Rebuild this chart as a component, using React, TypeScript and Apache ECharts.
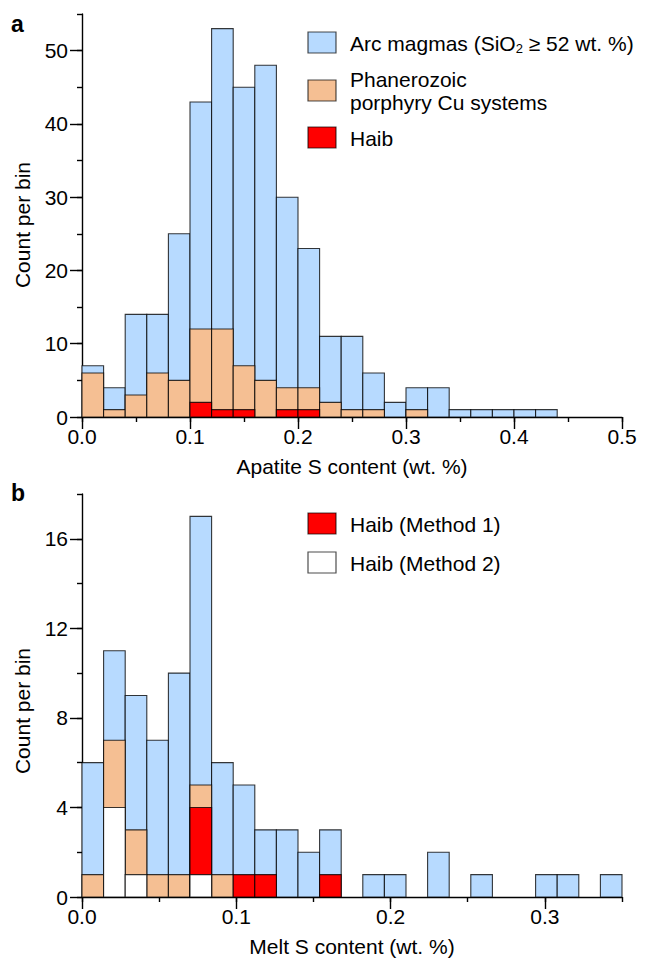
import React, { useEffect, useRef } from "react";
import * as echarts from "echarts";

// Panel a: apatite S content histogram (bin width 0.02 wt.%)
const binWidthA = 0.02;
const arcA = [7, 4, 14, 14, 25, 43, 53, 45, 48, 30, 23, 11, 11, 6, 2, 4, 4, 1, 1, 1, 1, 1, 0, 0, 0];
const porphyryA = [6, 1, 3, 6, 5, 12, 12, 7, 5, 4, 4, 2, 1, 1, 0, 1, 0, 0, 0, 0, 0, 0, 0, 0, 0];
const haibA = [0, 0, 0, 0, 0, 2, 1, 1, 0, 1, 1, 0, 0, 0, 0, 0, 0, 0, 0, 0, 0, 0, 0, 0, 0];

// Panel b: melt S content histogram (bin width 0.014 wt.%)
const binWidthB = 0.014;
const arcB = [6, 11, 9, 7, 10, 17, 6, 5, 3, 3, 2, 3, 0, 1, 1, 0, 2, 0, 1, 0, 0, 1, 1, 0, 1];
const porphyryB = [1, 7, 3, 1, 1, 5, 1, 0, 0, 0, 0, 0, 0, 0, 0, 0, 0, 0, 0, 0, 0, 0, 0, 0, 0];
const haibM1B = [0, 0, 0, 0, 0, 4, 0, 1, 1, 0, 0, 1, 0, 0, 0, 0, 0, 0, 0, 0, 0, 0, 0, 0, 0];
const haibM2B = [0, 4, 1, 0, 0, 1, 0, 0, 0, 0, 0, 0, 0, 0, 0, 0, 0, 0, 0, 0, 0, 0, 0, 0, 0];

const xTicksA = [0, 0.1, 0.2, 0.3, 0.4, 0.5];
const yTicksA = [0, 10, 20, 30, 40, 50];
const xTicksB = [0, 0.1, 0.2, 0.3];
const yTicksB = [0, 4, 8, 12, 16];

const BLUE = "#b7daff";
const ORANGE = "#f5bf93";
const RED = "#ff0000";
const WHITE = "#ffffff";
const EDGE = "rgba(0,0,0,0.78)";
const FONT = '"Liberation Sans", Arial, sans-serif';
const FS = 21;

function toBins(counts: number[], w: number) {
  const out: number[][] = [];
  counts.forEach((c, i) => {
    if (c > 0) out.push([+(i * w).toFixed(4), +((i + 1) * w).toFixed(4), c]);
  });
  return out;
}

function histSeries(name: string, counts: number[], w: number, color: string, axisIdx: number) {
  return {
    type: "custom",
    name,
    xAxisIndex: axisIdx,
    yAxisIndex: axisIdx,
    encode: { x: [0, 1], y: 2 },
    data: toBins(counts, w),
    renderItem: (params: any, api: any) => {
      const p0 = api.coord([api.value(0), api.value(2)]);
      const p1 = api.coord([api.value(1), 0]);
      return {
        type: "rect",
        shape: { x: p0[0], y: p0[1], width: p1[0] - p0[0], height: p1[1] - p0[1] },
        style: { fill: color, stroke: EDGE, lineWidth: 1.1 },
      };
    },
  };
}

function minorX(gi: number, max: number) {
  return {
    type: "value", gridIndex: gi, position: "bottom", min: 0, max, interval: 0.05,
    axisLine: { show: true, onZero: false, lineStyle: { color: "#000", width: 1.4 } },
    axisTick: { show: true, length: 5, lineStyle: { color: "#000", width: 1.4 } },
    axisLabel: { show: false }, splitLine: { show: false },
  };
}
function majorX(gi: number, max: number, ticks: number[]) {
  return {
    type: "value", gridIndex: gi, position: "bottom", offset: 0, min: 0, max,
    axisLine: { show: false, onZero: false },
    axisTick: { show: true, length: 12, customValues: ticks, lineStyle: { color: "#000", width: 1.4 } },
    axisLabel: {
      show: true, customValues: ticks, margin: 9, fontSize: FS, color: "#000", fontFamily: FONT,
      formatter: (v: number) => v.toFixed(1),
    },
    splitLine: { show: false },
  };
}
function minorY(gi: number, max: number, step: number) {
  return {
    type: "value", gridIndex: gi, position: "left", min: 0, max, interval: step,
    axisLine: { show: true, onZero: false, lineStyle: { color: "#000", width: 1.4 } },
    axisTick: { show: true, length: 5, lineStyle: { color: "#000", width: 1.4 } },
    axisLabel: { show: false }, splitLine: { show: false },
  };
}
function majorY(gi: number, max: number, ticks: number[]) {
  return {
    type: "value", gridIndex: gi, position: "left", offset: 0, min: 0, max,
    axisLine: { show: false, onZero: false },
    axisTick: { show: true, length: 12, customValues: ticks, lineStyle: { color: "#000", width: 1.4 } },
    axisLabel: { show: true, customValues: ticks, margin: 14, fontSize: FS, color: "#000", fontFamily: FONT },
    splitLine: { show: false },
  };
}

function legendBox(x: number, y: number, fill: string) {
  return {
    type: "rect",
    shape: { x, y, width: 28, height: 21 },
    style: { fill, stroke: "rgba(0,0,0,0.7)", lineWidth: 1.2 },
  };
}
function legendText(x: number, y: number, text: string, extra: any = {}) {
  return {
    type: "text",
    x, y,
    style: { text, fill: "#000", font: `${FS}px ${FONT}`, verticalAlign: "middle", align: "left", ...extra },
  };
}

export default function App() {
  const ref = useRef<HTMLDivElement>(null);
  useEffect(() => {
    if (!ref.current) return;
    const chart = echarts.init(ref.current, null, { renderer: "svg" });
    const option: any = {
      animation: false,
      backgroundColor: "#fff",
      grid: [
        { left: 82, right: 35, top: 14, height: 403 },
        { left: 82, right: 35, top: 494, height: 403 },
      ],
      xAxis: [
        minorX(0, 0.5), majorX(0, 0.5, xTicksA),
        minorX(1, 0.35), majorX(1, 0.35, xTicksB),
      ],
      yAxis: [
        minorY(0, 55, 5), majorY(0, 55, yTicksA),
        minorY(1, 18, 2), majorY(1, 18, yTicksB),
      ],
      series: [
        histSeries("Arc magmas", arcA, binWidthA, BLUE, 0),
        histSeries("Phanerozoic porphyry Cu systems", porphyryA, binWidthA, ORANGE, 0),
        histSeries("Haib", haibA, binWidthA, RED, 0),
        histSeries("Arc magmas", arcB, binWidthB, BLUE, 2),
        histSeries("Phanerozoic porphyry Cu systems", porphyryB, binWidthB, ORANGE, 2),
        histSeries("Haib (Method 1)", haibM1B, binWidthB, RED, 2),
        histSeries("Haib (Method 2)", haibM2B, binWidthB, WHITE, 2),
      ],
      graphic: [
        { type: "text", x: 11, y: 24, style: { text: "a", font: `bold 23px ${FONT}`, fill: "#000", verticalAlign: "middle" } },
        { type: "text", x: 11, y: 493, style: { text: "b", font: `bold 23px ${FONT}`, fill: "#000", verticalAlign: "middle" } },
        { type: "text", x: 22, y: 225, rotation: Math.PI / 2, style: { text: "Count per bin", font: `${FS}px ${FONT}`, fill: "#000", align: "center", verticalAlign: "middle" } },
        { type: "text", x: 22, y: 711, rotation: Math.PI / 2, style: { text: "Count per bin", font: `${FS}px ${FONT}`, fill: "#000", align: "center", verticalAlign: "middle" } },
        { type: "text", x: 352, y: 466, style: { text: "Apatite S content (wt. %)", font: `${FS}px ${FONT}`, fill: "#000", align: "center", verticalAlign: "middle" } },
        { type: "text", x: 352, y: 946, style: { text: "Melt S content (wt. %)", font: `${FS}px ${FONT}`, fill: "#000", align: "center", verticalAlign: "middle" } },
        legendBox(308, 32, BLUE),
        legendText(350, 43, "", {
          text: "Arc magmas (SiO{sub|2} ≥ 52 wt. %)",
          rich: {
            sub: { fontSize: 13, fontFamily: FONT, fill: "#000", padding: [10, 0, 0, 0] },
          },
        }),
        legendBox(308, 80, ORANGE),
        legendText(350, 79, "Phanerozoic"),
        legendText(350, 102, "porphyry Cu systems"),
        legendBox(308, 127, RED),
        legendText(350, 138, "Haib"),
        legendBox(308, 513, RED),
        legendText(350, 524, "Haib (Method 1)"),
        legendBox(308, 552, WHITE),
        legendText(350, 563, "Haib (Method 2)"),
      ],
    };
    chart.setOption(option);
    return () => chart.dispose();
  }, []);
  return (
    <div
      ref={ref}
      style={{ position: "absolute", left: 0, top: 0, width: 657, height: 964, background: "#fff" }}
    />
  );
}
